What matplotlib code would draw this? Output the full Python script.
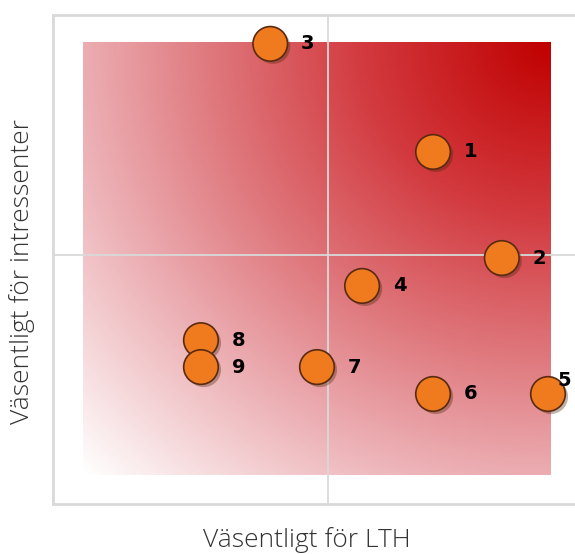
import numpy as np
import matplotlib.pyplot as plt
import matplotlib.patheffects as pe
from matplotlib.colors import LinearSegmentedColormap

# Data (axis units 0-10)
labels = ['1', '2', '3', '4', '5', '6', '7', '8', '9']
lth = [6.91, 8.16, 3.95, 5.62, 9.00, 6.91, 4.80, 2.69, 2.69]
intressenter = [7.20, 5.03, 9.41, 4.46, 2.25, 2.25, 2.80, 3.35, 2.80]

# label offsets in points (most are placed right of the marker)
offsets = {'5': (12, 10)}

fig = plt.figure(figsize=(5.75, 5.54), dpi=100)
ax = fig.add_axes([53 / 575, 1 - 504 / 554, 550 / 575, 489 / 554])
ax.set_xlim(0, 10)
ax.set_ylim(0, 10)

# gradient background, radial from the top right corner
x0, x1, y0, y1 = 0.545, 9.05, 0.593, 9.43
gx, gy = np.meshgrid(np.linspace(0, 1, 300), np.linspace(0, 1, 300))
d = np.sqrt((1 - gx) ** 2 + (1 - gy) ** 2) / np.sqrt(2)
t = 1 - d
cmap = LinearSegmentedColormap.from_list(
    'wr', [(0, '#ffffff'), (0.3, '#ebabb0'), (0.5, '#de7479'),
           (0.72, '#d2393e'), (1, '#c00000')])
ax.imshow(t, cmap=cmap, extent=[x0, x1, y0, y1], origin='lower',
          aspect='auto', zorder=0, vmin=0, vmax=1)

ax.axvline(5.0, color='#d9d9d9', lw=1.3, zorder=1)
ax.axhline(5.09, color='#d9d9d9', lw=1.3, zorder=1)

for s in ax.spines.values():
    s.set_color('#d9d9d9')
    s.set_linewidth(2)
ax.set_xticks([])
ax.set_yticks([])

ax.scatter(lth, intressenter, s=620, color='#f07a1e', edgecolor='#5a2a10',
           linewidth=1.2, zorder=3, clip_on=False,
           path_effects=[pe.SimplePatchShadow(offset=(2, -2), alpha=0.35),
                         pe.Normal()])

for lab, x, y in zip(labels, lth, intressenter):
    off = offsets.get(lab, (22, 0))
    ha = 'center' if lab in offsets else 'left'
    ax.annotate(lab, (x, y), xytext=off, textcoords='offset points',
                fontsize=14, fontweight='bold', va='center', ha=ha,
                zorder=4, annotation_clip=False)

fig.text(307 / 575, 1 - 540 / 554, 'Väsentligt för LTH', fontsize=19,
         family='Open Sans', fontweight='light', ha='center', va='center',
         color='#333333')
fig.text(22 / 575, 1 - 272 / 554, 'Väsentligt för intressenter', fontsize=19,
         family='Open Sans', fontweight='light', ha='center', va='center',
         rotation=90, color='#333333')

fig.savefig('out.png', dpi=100)
